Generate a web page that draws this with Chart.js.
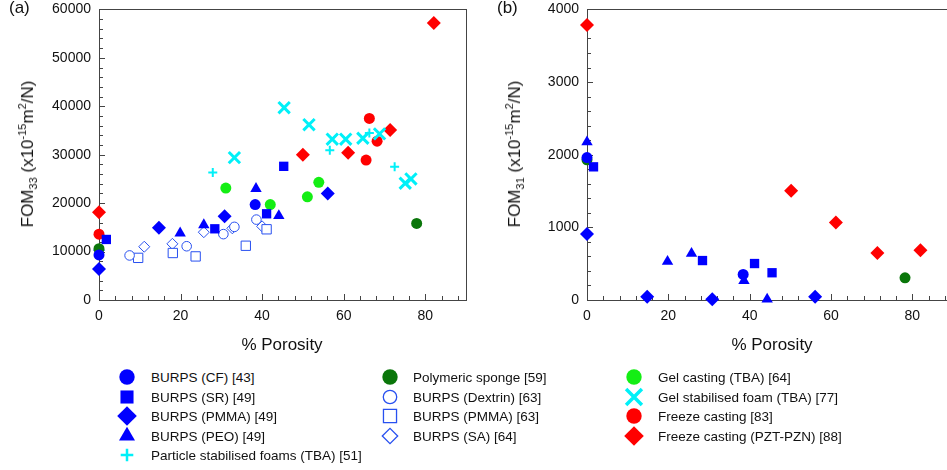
<!DOCTYPE html>
<html>
<head>
<meta charset="utf-8">
<script src="https://cdn.jsdelivr.net/npm/chart.js@4.4.1/dist/chart.umd.min.js"></script>
<style>
  html, body { margin: 0; padding: 0; background: #fff; overflow: hidden; }
  body { width: 947px; height: 470px; position: relative; font-family: "Liberation Sans", Arial, sans-serif; color: #111; }
  .abs { position: absolute; }
  canvas.plot { position: absolute; top: -7px; }
  .panel { font-size: 17px; }
  .xtitle { font-size: 17px; transform: translate(-50%, -50%); white-space: nowrap; }
  .ytitle { font-size: 17px; transform: translate(-50%, -50%) rotate(-90deg); white-space: nowrap; }
  .ytitle sub, .ytitle sup { font-size: 11px; line-height: 0; }
  .leg { position: absolute; font-size: 13.5px; white-space: nowrap; transform: translateY(-50%); }
  .legmark { position: absolute; }
</style>
</head>
<body>
<canvas id="fom33" class="plot" width="480" height="347" style="left:0"></canvas>
<canvas id="fom31" class="plot" width="480" height="347" style="left:480px"></canvas>

<div class="abs panel" style="left:9px;top:-2px">(a)</div>
<div class="abs panel" style="left:497px;top:-2px">(b)</div>
<div class="abs xtitle" style="left:282px;top:345px">% Porosity</div>
<div class="abs xtitle" style="left:772px;top:345px">% Porosity</div>
<div class="abs ytitle" style="left:28px;top:154px">FOM<sub>33</sub> (x10<sup>-15</sup>m<sup>2</sup>/N)</div>
<div class="abs ytitle" style="left:515px;top:154px">FOM<sub>31</sub> (x10<sup>-15</sup>m<sup>2</sup>/N)</div>
<div id="legend"></div>

<script>
const FONT = '"Liberation Sans", Arial, sans-serif';

// axis ticks
const xTicks = [0, 20, 40, 60, 80];
const y33Ticks = [0, 10000, 20000, 30000, 40000, 50000, 60000];
const y31Ticks = [0, 1000, 2000, 3000, 4000];

// FOM33 vs % porosity, [porosity, FOM]
const burpsCF33 = [[0, 9300], [38.3, 19700]];
const burpsSR33 = [[1.8, 12500], [28.4, 14700], [41.1, 17800], [45.3, 27600]];
const burpsPMMA33 = [[0, 6400], [14.7, 14900], [30.8, 17300], [56.1, 22000]];
const burpsPEO33 = [[19.9, 13800], [25.7, 15500], [38.5, 23000], [44.1, 17400]];
const particleFoam33 = [[27.9, 26300], [56.6, 30900], [66.3, 34500], [72.5, 27500]];
const polySponge33 = [[0, 10600], [77.9, 15800]];
const burpsDextrin33 = [[7.5, 9200], [21.5, 11100], [30.5, 13600], [33.2, 15100], [38.6, 16600]];
const burpsPMMAopen33 = [[9.6, 8700], [18.1, 9700], [23.7, 9000], [36, 11200], [41.1, 14600]];
const burpsSA33 = [[0, 10300], [11.1, 11000], [18, 11600], [25.7, 14000], [32.7, 14800], [40, 15200]];
const gelCasting33 = [[31.1, 23100], [42, 19700], [51.1, 21300], [53.9, 24300]];
const gelFoam33 = [[33.2, 29400], [45.4, 39700], [51.5, 36200], [57.2, 33200], [60.5, 33200], [64.7, 33400], [68.8, 34300], [75.1, 24100], [76.5, 25000]];
const freeze33 = [[0, 13600], [65.5, 28900], [66.3, 37500], [68.2, 32800]];
const freezePZT33 = [[0, 18100], [50, 30000], [61.1, 30400], [71.4, 35100], [82.1, 57200]];

// FOM31 vs % porosity
const burpsCF31 = [[0, 1960], [38.4, 352]];
const burpsSR31 = [[1.6, 1833], [28.4, 543], [41.2, 502], [45.5, 375]];
const burpsPMMA31 = [[0, 908], [14.8, 46], [30.8, 12], [56.1, 46]];
const burpsPEO31 = [[0, 2175], [19.8, 530], [25.7, 640], [38.6, 265], [44.3, 10]];
const polySponge31 = [[0, 1930], [78.2, 306]];
const freezePZT31 = [[0, 3785], [50.2, 1505], [61.2, 1067], [71.4, 648], [82, 684]];

const BLUE = '#0000ff', OPEN_BLUE = '#2850f0', CYAN = '#00f0f8';
const DKGREEN = '#0a760a', GREEN = '#14ee14', RED = '#ff0000';

const series = [
  { key: 'cf', label: 'BURPS (CF) [43]', style: 'circle', r: 5.5, color: BLUE, fill: true },
  { key: 'sr', label: 'BURPS (SR) [49]', style: 'rect', r: 6.6, color: BLUE, fill: true },
  { key: 'pmma', label: 'BURPS (PMMA) [49]', style: 'rectRot', r: 7, color: BLUE, fill: true },
  { key: 'peo', label: 'BURPS (PEO) [49]', style: 'triangle', r: 6.6, color: BLUE, fill: true },
  { key: 'pfoam', label: 'Particle stabilised foams (TBA) [51]', style: 'cross', r: 4.5, color: CYAN, lw: 2 },
  { key: 'poly', label: 'Polymeric sponge [59]', style: 'circle', r: 5.5, color: DKGREEN, fill: true },
  { key: 'dex', label: 'BURPS (Dextrin) [63]', style: 'circle', r: 4.8, color: OPEN_BLUE, lw: 1 },
  { key: 'pmmao', label: 'BURPS (PMMA) [63]', style: 'rect', r: 6.6, color: OPEN_BLUE, lw: 1 },
  { key: 'sa', label: 'BURPS (SA) [64]', style: 'rectRot', r: 5.5, color: OPEN_BLUE, lw: 1 },
  { key: 'gel', label: 'Gel casting (TBA) [64]', style: 'circle', r: 5.5, color: GREEN, fill: true },
  { key: 'gfoam', label: 'Gel stabilised foam (TBA) [77]', style: 'crossRot', r: 8, color: CYAN, lw: 3 },
  { key: 'fc', label: 'Freeze casting [83]', style: 'circle', r: 5.5, color: RED, fill: true },
  { key: 'pzt', label: 'Freeze casting (PZT-PZN) [88]', style: 'rectRot', r: 7, color: RED, fill: true },
];

const data33 = {
  cf: burpsCF33, sr: burpsSR33, pmma: burpsPMMA33, peo: burpsPEO33, pfoam: particleFoam33,
  poly: polySponge33, dex: burpsDextrin33, pmmao: burpsPMMAopen33, sa: burpsSA33,
  gel: gelCasting33, gfoam: gelFoam33, fc: freeze33, pzt: freezePZT33,
};
const data31 = {
  cf: burpsCF31, sr: burpsSR31, pmma: burpsPMMA31, peo: burpsPEO31, poly: polySponge31, pzt: freezePZT31,
};

function buildDatasets(dataMap) {
  return series
    .filter((s) => dataMap[s.key])
    .map((s) => ({
      label: s.label,
      data: dataMap[s.key].map(([x, y]) => ({ x, y })),
      pointStyle: s.style,
      pointRadius: s.r,
      pointHoverRadius: s.r,
      backgroundColor: s.fill ? s.color : '#ffffff',
      borderColor: s.color,
      borderWidth: s.fill ? 0 : s.lw,
      clip: false,
    }));
}

// box around the plot plus inward major/minor ticks
const frameTicks = {
  id: 'frameTicks',
  beforeDatasetsDraw(chart, args, opts) {
    const { ctx, chartArea: a, scales } = chart;
    const x = scales.x, y = scales.y;
    ctx.save();
    ctx.strokeStyle = '#444';
    ctx.lineWidth = 1;
    ctx.strokeRect(Math.round(a.left) + 0.5, Math.round(a.top) + 0.5,
      Math.round(a.right - a.left), Math.round(a.bottom - a.top));
    ctx.beginPath();
    for (let v = 0; v <= x.max + 1e-9; v += opts.xMinor) {
      const px = Math.round(x.getPixelForValue(v)) + 0.5;
      const len = Math.abs(v % opts.xMajor) < 1e-9 ? 6 : 4;
      ctx.moveTo(px, a.bottom);
      ctx.lineTo(px, a.bottom - len);
    }
    for (let v = 0; v <= y.max + 1e-9; v += opts.yMinor) {
      const py = Math.round(y.getPixelForValue(v)) + 0.5;
      const len = Math.abs(v % opts.yMajor) < 1e-9 ? 6 : 4;
      ctx.moveTo(a.left, py);
      ctx.lineTo(a.left + len, py);
    }
    ctx.stroke();
    ctx.restore();
  },
};

function makeChart(id, datasets, yTicks, yMinor, yWidth, padRight) {
  const yMax = yTicks[yTicks.length - 1];
  return new Chart(document.getElementById(id), {
    type: 'scatter',
    data: { datasets },
    options: {
      animation: false,
      responsive: false,
      events: [],
      layout: { padding: { top: 0, right: padRight, left: 0, bottom: 0 } },
      plugins: {
        legend: { display: false },
        tooltip: { enabled: false },
        frameTicks: { xMinor: 4, xMajor: 20, yMinor, yMajor: yTicks[1] },
      },
      scales: {
        x: {
          type: 'linear', min: 0, max: 90,
          afterBuildTicks: (s) => { s.ticks = xTicks.map((value) => ({ value })); },
          afterFit: (s) => { s.height = 40; },
          grid: { display: false, drawTicks: false },
          border: { display: false },
          ticks: { padding: 8, color: '#111', font: { family: FONT, size: 14 }, maxRotation: 0, callback: (v) => String(v) },
        },
        y: {
          type: 'linear', min: 0, max: yMax,
          afterBuildTicks: (s) => { s.ticks = yTicks.map((value) => ({ value })); },
          afterFit: (s) => { s.width = yWidth; },
          grid: { display: false, drawTicks: false },
          border: { display: false },
          ticks: { padding: 8, color: '#111', font: { family: FONT, size: 14 }, callback: (v) => String(v) },
        },
      },
    },
    plugins: [frameTicks],
  });
}

makeChart('fom33', buildDatasets(data33), y33Ticks, 2000, 99, 14);
makeChart('fom31', buildDatasets(data31), y31Ticks, 200, 107, 5);

// legend below both panels
const legendCols = [
  { mx: 127, tx: 151, keys: ['cf', 'sr', 'pmma', 'peo', 'pfoam'] },
  { mx: 390, tx: 413, keys: ['poly', 'dex', 'pmmao', 'sa'] },
  { mx: 634, tx: 658, keys: ['gel', 'gfoam', 'fc', 'pzt'] },
];
const legendRows = [377, 396.5, 416, 435.5, 455];
const legendEl = document.getElementById('legend');

legendCols.forEach((col) => {
  col.keys.forEach((key, i) => {
    const s = series.find((d) => d.key === key);
    const y = legendRows[i];
    const c = document.createElement('canvas');
    c.width = 24; c.height = 24;
    c.className = 'legmark abs';
    c.style.left = (col.mx - 12) + 'px';
    c.style.top = (y - 12) + 'px';
    legendEl.appendChild(c);
    const ctx = c.getContext('2d');
    ctx.fillStyle = s.fill ? s.color : '#ffffff';
    ctx.strokeStyle = s.color;
    ctx.lineWidth = s.fill ? 0 : (s.lw > 1 ? s.lw + 0.5 : 1.3);
    Chart.helpers.drawPoint(ctx, {
      pointStyle: s.style,
      radius: s.r * 1.4,
      rotation: 0,
      borderWidth: s.fill ? 0 : ctx.lineWidth,
    }, 12, 12);

    const t = document.createElement('div');
    t.className = 'leg';
    t.style.left = col.tx + 'px';
    t.style.top = y + 'px';
    t.textContent = s.label;
    legendEl.appendChild(t);
  });
});
</script>
</body>
</html>
